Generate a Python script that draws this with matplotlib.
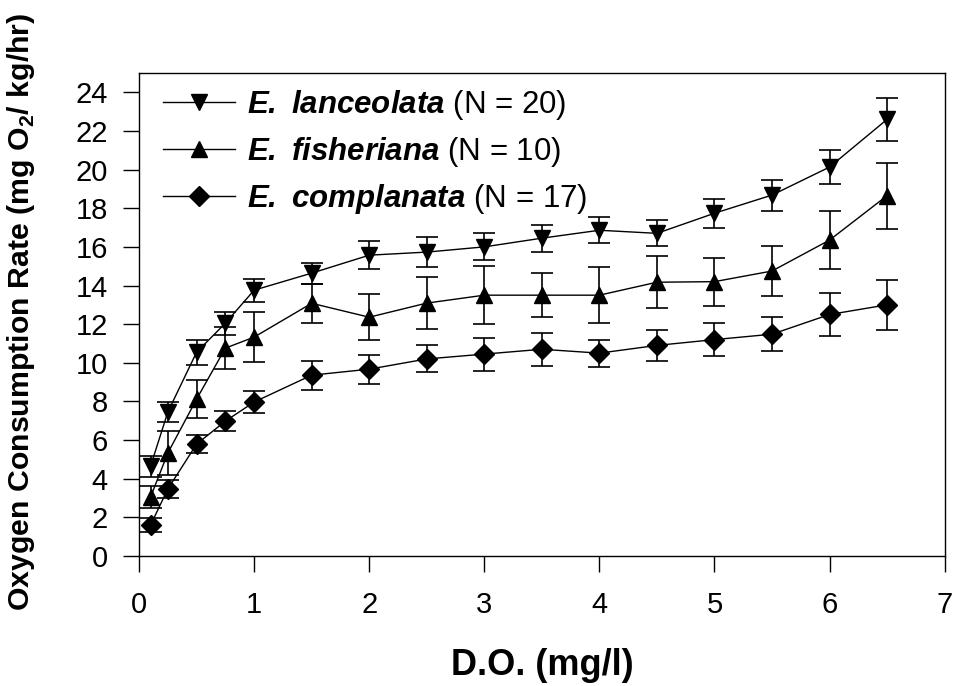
import matplotlib
matplotlib.use("Agg")
import matplotlib.pyplot as plt

plt.rcParams['font.family'] = ['Liberation Sans', 'DejaVu Sans']
plt.rcParams['mathtext.fontset'] = 'custom'
plt.rcParams['mathtext.rm'] = 'Liberation Sans:bold'
plt.rcParams['mathtext.bf'] = 'Liberation Sans:bold:italic'

do_levels = [0.1, 0.25, 0.5, 0.75, 1, 1.5, 2, 2.5, 3, 3.5, 4, 4.5, 5, 5.5, 6, 6.5]

lanceolata = [4.65, 7.45, 10.55, 12.05, 13.76, 14.64, 15.57, 15.73, 16.0, 16.45, 16.86, 16.7, 17.74, 18.68, 20.13, 22.6]
lanceolata_err = [0.55, 0.5, 0.65, 0.6, 0.6, 0.55, 0.72, 0.78, 0.7, 0.7, 0.68, 0.68, 0.75, 0.8, 0.9, 1.1]

fisheriana = [3.05, 5.33, 8.12, 10.76, 11.33, 13.08, 12.36, 13.09, 13.5, 13.5, 13.5, 14.17, 14.2, 14.75, 16.35, 18.65]
fisheriana_err = [0.55, 1.15, 1.0, 1.1, 1.3, 1.0, 1.2, 1.35, 1.5, 1.15, 1.45, 1.35, 1.25, 1.3, 1.5, 1.7]

complanata = [1.6, 3.47, 5.79, 6.98, 7.97, 9.36, 9.67, 10.2, 10.45, 10.7, 10.5, 10.9, 11.2, 11.48, 12.5, 13.0]
complanata_err = [0.37, 0.45, 0.45, 0.5, 0.57, 0.75, 0.75, 0.7, 0.85, 0.85, 0.7, 0.8, 0.85, 0.87, 1.1, 1.3]

labels = [r"$\mathbf{E.\;lanceolata}$ (N = 20)",
          r"$\mathbf{E.\;fisheriana}$ (N = 10)",
          r"$\mathbf{E.\;complanata}$ (N = 17)"]

fig = plt.figure(figsize=(9.59, 6.86), dpi=100)
ax = fig.add_axes([0.145, 0.1895, 0.840, 0.7041])

series = [(lanceolata, lanceolata_err, 'v', 11),
          (fisheriana, fisheriana_err, '^', 11),
          (complanata, complanata_err, 'D', 10)]
handles = []
for (vals, errs, mk, ms), lab in zip(series, labels):
    ax.errorbar(do_levels, vals, yerr=errs, fmt='none', ecolor='black',
                elinewidth=1.2, capsize=8, capthick=1.2, zorder=2)
    h, = ax.plot(do_levels, vals, color='black', lw=1.0, marker=mk,
                 markersize=ms, markerfacecolor='black', markeredgecolor='black',
                 label=lab, zorder=3)
    handles.append(h)

ax.set_xlim(0, 7)
ax.set_ylim(0, 25)
ax.set_xticks(range(0, 8))
ax.set_yticks(range(0, 25, 2))
ax.tick_params(direction='out', length=11.5, width=1, labelsize=21, pad=11)
ax.tick_params(axis='x', pad=14)
for s in ax.spines.values():
    s.set_linewidth(1.0)

ax.set_xlabel('D.O. (mg/l)', fontsize=26, fontweight='bold')
ax.xaxis.set_label_coords(0.5, -0.19)
ax.set_ylabel(r'Oxygen Consumption Rate (mg O$_2$/ kg/hr)', fontsize=21.8,
              fontweight='bold')
ax.yaxis.set_label_coords(-0.1266, 0.505)

leg = ax.legend(handles=handles, loc='upper left', frameon=False, fontsize=22.5,
                handlelength=2.3, handletextpad=0.38, labelspacing=0.42,
                borderpad=0.0, borderaxespad=0.0,
                bbox_to_anchor=(0.0298, 0.969))

fig.savefig('out.png', dpi=100)
